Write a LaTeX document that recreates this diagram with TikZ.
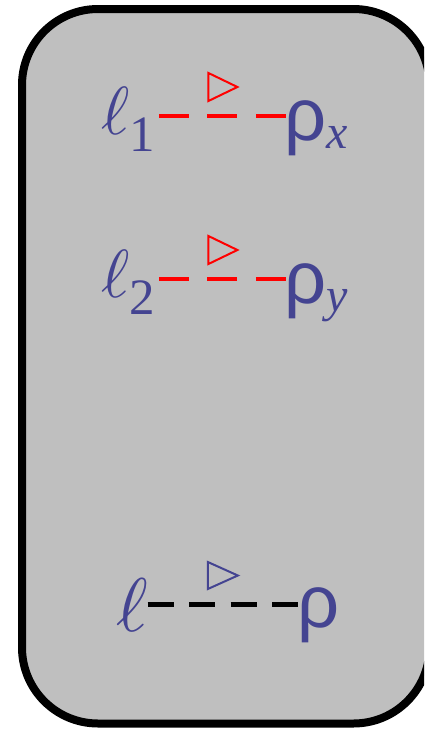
\documentclass[tikz,border=0pt]{standalone}
\usepackage{fontspec}
\setmainfont{Liberation Serif}
\newfontfamily\rhofont{Liberation Sans}
\definecolor{boxgray}{RGB}{191,191,191}
\definecolor{labelblue}{RGB}{68,68,145}
\begin{document}
\begin{tikzpicture}[x=1pt,y=-1pt,
  lbl/.style={inner sep=0pt, outer sep=0pt, text=labelblue, anchor=base west},
  reddash/.style={draw=red, line width=4.5pt, dash pattern=on 30pt off 18.5pt},
  blackdash/.style={draw=black, line width=4.5pt, dash pattern=on 26pt off 15.5pt},
  tri/.style={line width=2pt, line join=miter}]
\useasboundingbox (0,0) rectangle (424,729);
\clip (0,0) rectangle (424,729);
\draw[line width=8pt, fill=boxgray, rounded corners=76pt] (22,9) rectangle (429.5,723.5);
% row 1
\node[lbl] (l1) at (101,134) {\scalebox{6.8}{$\ell$}\raisebox{-17pt}{\fontsize{51}{51}\selectfont 1}};
\node[lbl] (r1) at (284,140) {{\rhofont\fontsize{74}{74}\selectfont ρ}\raisebox{-8pt}{\fontsize{48}{48}\selectfont\itshape x}};
\draw[reddash] ([xshift=4pt,yshift=18pt]l1.base east) -- ([xshift=3pt,yshift=18pt]l1.base east -| r1.west) coordinate[pos=0.5] (m1);
\draw[tri, draw=red] ([shift={(-14.5,-43)}]m1) -- ([shift={(14.5,-29)}]m1) -- ([shift={(-14.5,-15)}]m1) -- cycle;
% row 2
\node[lbl] (l2) at (101,297) {\scalebox{6.8}{$\ell$}\raisebox{-17pt}{\fontsize{51}{51}\selectfont 2}};
\node[lbl] (r2) at (284,303) {{\rhofont\fontsize{74}{74}\selectfont ρ}\raisebox{-8pt}{\fontsize{48}{48}\selectfont\itshape y}};
\draw[reddash] ([xshift=4pt,yshift=18pt]l2.base east) -- ([xshift=3pt,yshift=18pt]l2.base east -| r2.west) coordinate[pos=0.5] (m2);
\draw[tri, draw=red] ([shift={(-14.5,-43)}]m2) -- ([shift={(14.5,-29)}]m2) -- ([shift={(-14.5,-15)}]m2) -- cycle;
% row 3
\node[lbl] (l3) at (116,631) {\scalebox{7.6}{$\ell$}};
\node[lbl] (r3) at (297,627) {\rhofont\fontsize{74}{74}\selectfont ρ};
\draw[blackdash] ([yshift=26.5pt]l3.base east) -- ([xshift=1pt,yshift=26.5pt]l3.base east -| r3.west) coordinate[pos=0.5] (m3);
\draw[tri, draw=labelblue] ([shift={(-15,-42.5)}]m3) -- ([shift={(15,-29)}]m3) -- ([shift={(-15,-15.5)}]m3) -- cycle;
\end{tikzpicture}
\end{document}
